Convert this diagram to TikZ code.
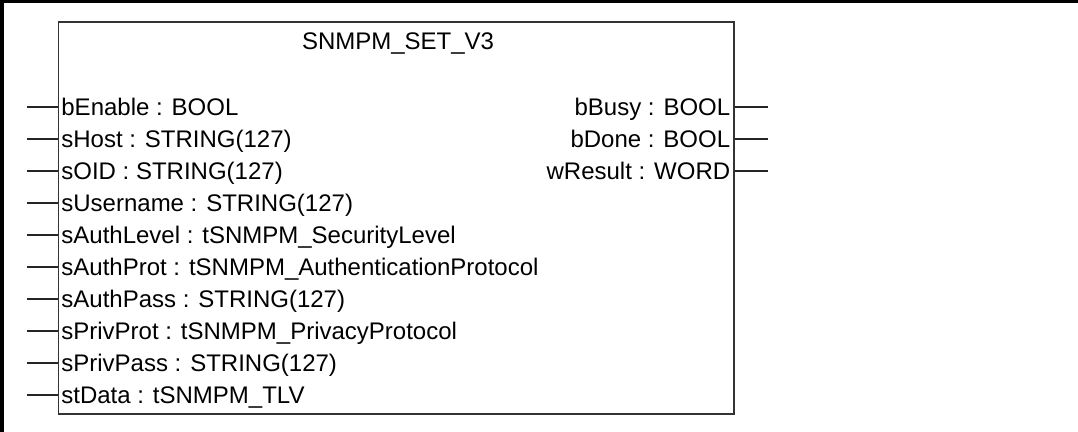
\documentclass[tikz,border=0pt]{standalone}
\usepackage{fontspec}
\setmainfont{Liberation Sans}
\usetikzlibrary{positioning, calc}

\begin{document}
\begin{tikzpicture}[x=1pt, y=1pt, node distance=16pt,
  fbox/.style={draw=black!80, line width=0.9pt, minimum width=337.75pt, minimum height=196pt, inner sep=0pt},
  lbl/.style={inner sep=0pt, text height=11pt, text depth=2.4pt, font=\fontsize{12}{14}\selectfont},
  inlbl/.style={lbl, anchor=west},
  outlbl/.style={lbl, anchor=east},
  pin/.style={draw=black!85, line width=0.8pt}]
\useasboundingbox (0,0) rectangle (539,-216);
% window edge
\draw[line width=1.5pt] (0,-0.75) -- (539,-0.75);
\draw[line width=2pt] (1,0) -- (1,-216);
% function block
\node[fbox] (fb) at (198.125,-109) {};
\node[lbl, anchor=center] (title) at ($(fb.north)+(0.9,-10)$) {SNMPM\_SET\_V3};
\coordinate (inedge) at (13.5,0);
\coordinate (outedge) at (384,0);
% inputs
\node[inlbl] (bEnable) at (30.5,-53.5) {bEnable : BOOL};
\node[below=of bEnable.west, inlbl] (sHost) {sHost : STRING(127)};
\node[below=of sHost.west, inlbl] (sOID) {sOID : STRING(127)};
\node[below=of sOID.west, inlbl] (sUsername) {sUsername : STRING(127)};
\node[below=of sUsername.west, inlbl] (sAuthLevel) {sAuthLevel : tSNMPM\_SecurityLevel};
\node[below=of sAuthLevel.west, inlbl] (sAuthProt) {sAuthProt : tSNMPM\_AuthenticationProtocol};
\node[below=of sAuthProt.west, inlbl] (sAuthPass) {sAuthPass : STRING(127)};
\node[below=of sAuthPass.west, inlbl] (sPrivProt) {sPrivProt : tSNMPM\_PrivacyProtocol};
\node[below=of sPrivProt.west, inlbl] (sPrivPass) {sPrivPass : STRING(127)};
\node[below=of sPrivPass.west, inlbl] (stData) {stData : tSNMPM\_TLV};
% outputs
\node[outlbl] (bBusy) at (365.3,-53.5) {bBusy : BOOL};
\node[below=of bBusy.east, outlbl] (bDone) {bDone : BOOL};
\node[below=of bDone.east, outlbl] (wResult) {wResult : WORD};
% pins
\draw[pin] (fb.west |- bEnable.west) -- (inedge |- bEnable.west);
\draw[pin] (fb.west |- sHost.west) -- (inedge |- sHost.west);
\draw[pin] (fb.west |- sOID.west) -- (inedge |- sOID.west);
\draw[pin] (fb.west |- sUsername.west) -- (inedge |- sUsername.west);
\draw[pin] (fb.west |- sAuthLevel.west) -- (inedge |- sAuthLevel.west);
\draw[pin] (fb.west |- sAuthProt.west) -- (inedge |- sAuthProt.west);
\draw[pin] (fb.west |- sAuthPass.west) -- (inedge |- sAuthPass.west);
\draw[pin] (fb.west |- sPrivProt.west) -- (inedge |- sPrivProt.west);
\draw[pin] (fb.west |- sPrivPass.west) -- (inedge |- sPrivPass.west);
\draw[pin] (fb.west |- stData.west) -- (inedge |- stData.west);
\draw[pin] (fb.east |- bBusy.east) -- (outedge |- bBusy.east);
\draw[pin] (fb.east |- bDone.east) -- (outedge |- bDone.east);
\draw[pin] (fb.east |- wResult.east) -- (outedge |- wResult.east);
\end{tikzpicture}
\end{document}
